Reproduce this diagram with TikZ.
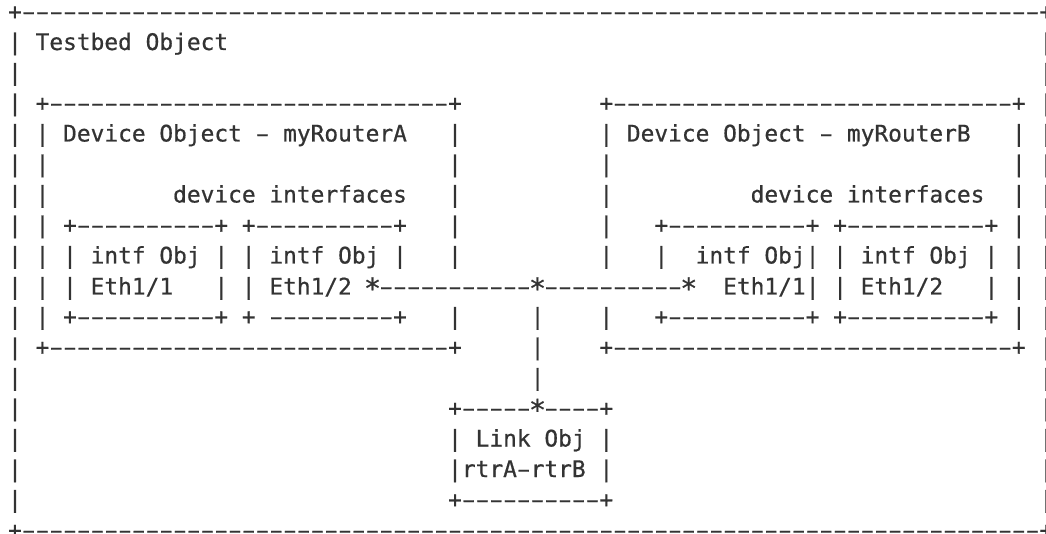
\documentclass[tikz,border=0pt]{standalone}
\usepackage{fontspec}
\usepackage{graphicx}
\setmonofont{DejaVu Sans Mono}[FakeBold=0.6]
\definecolor{ink}{HTML}{333333}
\ExplSyntaxOn
\NewDocumentCommand\rep{mm}{\prg_replicate:nn{#1}{#2}}
\ExplSyntaxOff
% one monospace cell holding a wider hyphen, and a lowered asterisk
\newcommand\dsh{\makebox[0.60205em]{\scalebox{1.75}[1]{-}}}
\newcommand\astr{\makebox[0.60205em]{\raisebox{-4pt}{\scalebox{1.25}{*}}}}
\tikzset{asciirow/.style={anchor=base west, inner sep=0pt, outer sep=0pt, text=ink,
  font=\ttfamily\fontsize{22.84}{30.5}\selectfont}}
\begin{document}
\begin{tikzpicture}[x=1pt,y=-1pt]
\useasboundingbox[fill=white] (0,0) rectangle (1046,534);
\node[asciirow] (r0)  at (8.125,19.5)  {+\rep{74}{\dsh}+};
\node[asciirow] (r1)  at (8.125,50)    {| Testbed Object\rep{59}{\ }|};
\node[asciirow] (r2)  at (8.125,80.5)  {|\rep{74}{\ }|};
\node[asciirow] (r3)  at (8.125,111)   {| +\rep{29}{\dsh}+\rep{10}{\ }+\rep{29}{\dsh}+ |};
\node[asciirow] (r4)  at (8.125,141.5) {| | Device Object \dsh{} myRouterA\rep{3}{\ }|\rep{10}{\ }| Device Object \dsh{} myRouterB\rep{3}{\ }| |};
\node[asciirow] (r5)  at (8.125,172)   {| |\rep{29}{\ }|\rep{10}{\ }|\rep{29}{\ }| |};
\node[asciirow] (r6)  at (8.125,202.5) {| |\rep{9}{\ }device interfaces\rep{3}{\ }|\rep{10}{\ }|\rep{10}{\ }device interfaces\rep{2}{\ }| |};
\node[asciirow] (r7)  at (8.125,233)   {| | +\rep{10}{\dsh}+ +\rep{10}{\dsh}+\rep{3}{\ }|\rep{10}{\ }|\rep{3}{\ }+\rep{10}{\dsh}+ +\rep{10}{\dsh}+ | |};
\node[asciirow] (r8)  at (8.125,263.5) {| | | intf Obj | | intf Obj |\rep{3}{\ }|\rep{10}{\ }|\rep{3}{\ }|\rep{2}{\ }intf Obj| | intf Obj | | |};
\node[asciirow] (r9)  at (8.125,294.5) {| | | Eth1/1\rep{3}{\ }| | Eth1/2 \astr\rep{11}{\dsh}\astr\rep{10}{\dsh}\astr\rep{2}{\ }Eth1/1| | Eth1/2\rep{3}{\ }| | |};
\node[asciirow] (r10) at (8.125,324.5) {| | +\rep{10}{\dsh}+ + \rep{9}{\dsh}+\rep{3}{\ }|\rep{5}{\ }|\rep{4}{\ }|\rep{3}{\ }+\rep{10}{\dsh}+ +\rep{10}{\dsh}+ | |};
\node[asciirow] (r11) at (8.125,355)   {| +\rep{29}{\dsh}+\rep{5}{\ }|\rep{4}{\ }+\rep{29}{\dsh}+ |};
\node[asciirow] (r12) at (8.125,385.5) {|\rep{37}{\ }|\rep{36}{\ }|};
\node[asciirow] (r13) at (8.125,416)   {|\rep{31}{\ }+\rep{5}{\dsh}\astr\rep{4}{\dsh}+\rep{31}{\ }|};
\node[asciirow] (r14) at (8.125,446.5) {|\rep{31}{\ }| Link Obj |\rep{31}{\ }|};
\node[asciirow] (r15) at (8.125,477)   {|\rep{31}{\ }|rtrA\dsh rtrB |\rep{31}{\ }|};
\node[asciirow] (r16) at (8.125,507.5) {|\rep{31}{\ }+\rep{10}{\dsh}+\rep{31}{\ }|};
\node[asciirow] (r17) at (8.125,538)   {+\rep{74}{\dsh}+};
\end{tikzpicture}
\end{document}
